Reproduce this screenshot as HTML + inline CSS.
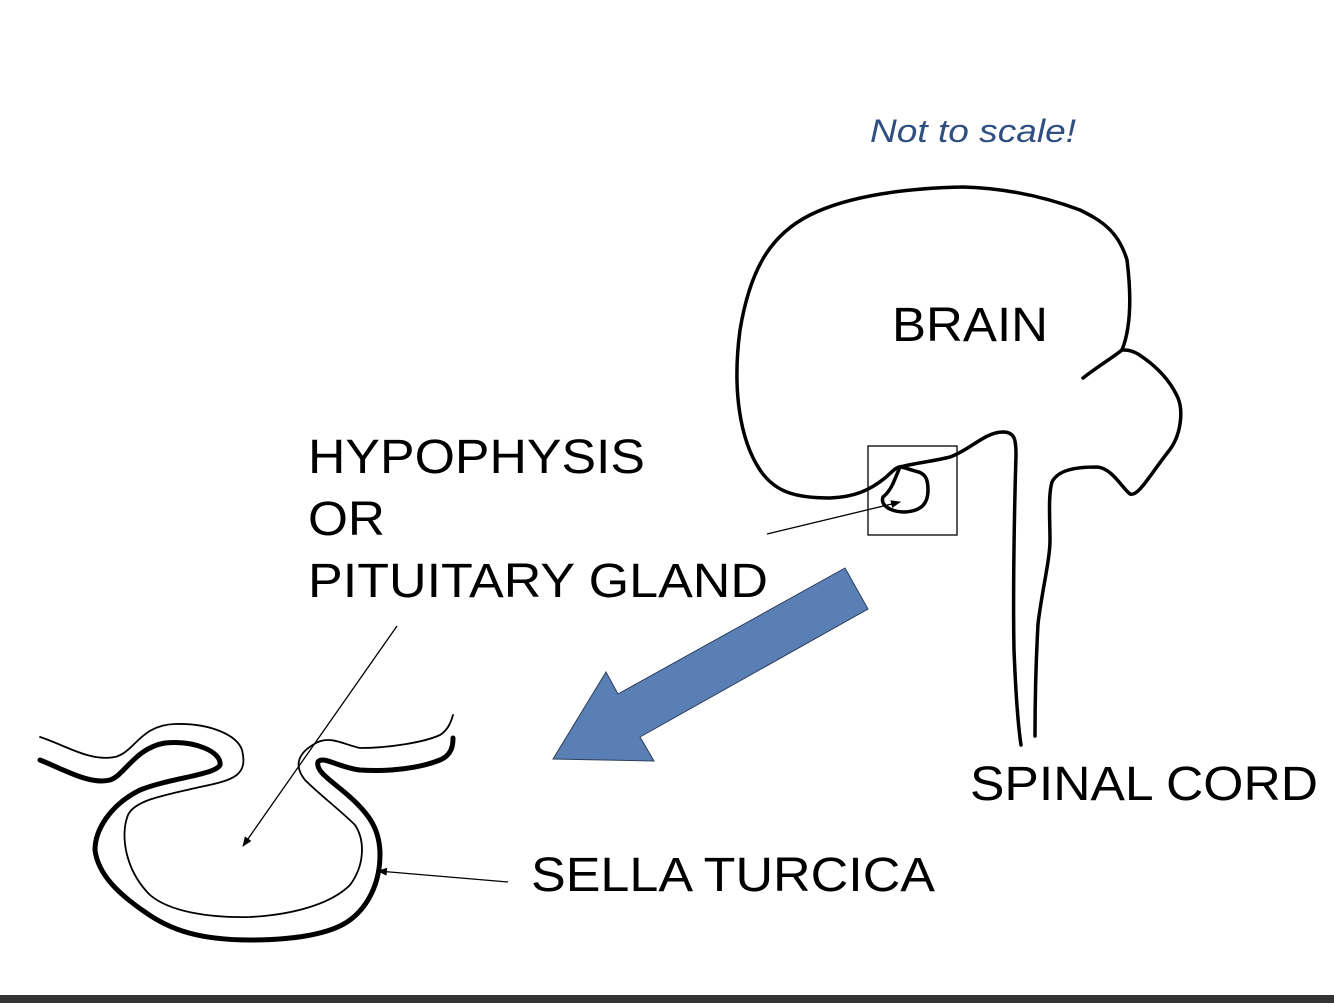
<!DOCTYPE html>
<html><head><meta charset="utf-8"><style>
html,body{margin:0;padding:0;background:#fff;width:1334px;height:1003px;overflow:hidden}
svg{display:block}
text{font-family:"Liberation Sans",Arial,sans-serif;fill:#000}
</style></head><body>
<svg width="1334" height="1003" viewBox="0 0 1334 1003" xmlns="http://www.w3.org/2000/svg">
<defs>
<marker id="ah" markerWidth="10" markerHeight="8" refX="9" refY="4" orient="auto" markerUnits="userSpaceOnUse">
<path d="M0,0 L10,4 L0,8 z" fill="#000"/></marker>
</defs>
<rect width="1334" height="1003" fill="#fff"/>
<text x="870" y="142" font-size="32" font-style="italic" style="fill:#2f4f80" textLength="206" lengthAdjust="spacingAndGlyphs">Not to scale!</text>
<text x="892" y="341" font-size="48" textLength="156" lengthAdjust="spacingAndGlyphs">BRAIN</text>
<text x="308" y="473" font-size="48" textLength="337" lengthAdjust="spacingAndGlyphs">HYPOPHYSIS</text>
<text x="308" y="535" font-size="48" textLength="77" lengthAdjust="spacingAndGlyphs">OR</text>
<text x="308" y="597" font-size="48" textLength="460" lengthAdjust="spacingAndGlyphs">PITUITARY GLAND</text>
<text x="970" y="800" font-size="48" textLength="348" lengthAdjust="spacingAndGlyphs">SPINAL CORD</text>
<text x="531" y="891" font-size="48" textLength="404" lengthAdjust="spacingAndGlyphs">SELLA TURCICA</text>

<!-- brain -->
<g fill="none" stroke="#000" stroke-width="3.5" stroke-linecap="round" stroke-linejoin="round">
<path d="M1083,378 C1100,365 1112,358 1122,350 C1130,330 1132,300 1127,260 C1118,230 1100,220 1080,210 C1040,195 1000,188 963,187 C910,188 850,195 810,215 C770,235 750,270 740,330 C732,390 740,440 760,470 C775,492 795,498 830,498 C855,497 870,490 885,478 C892,472 896,467 900,467"/>
<path d="M900,467 C895,478 892,490 883,497 C880,505 890,512 905,512 C922,511 928,503 928,490 C928,478 925,473 915,471 C908,469 903,467 900,467"/>
<path d="M900,467 C915,463 935,461 950,457 C970,450 985,432 1003,432 C1015,432 1016,440 1016,455 C1014,520 1013,600 1014,650 C1016,700 1018,725 1021,745"/>
<path d="M1035,736 C1035,700 1036,660 1038,624 C1042,590 1050,560 1050,540 C1050,520 1048,495 1052,482 C1058,470 1075,467 1097,467 C1112,468 1122,488 1130,494 C1138,497 1150,475 1168,452 C1182,435 1183,410 1178,398 C1170,380 1155,365 1138,354 C1130,349 1124,350 1122,350"/>
</g>
<rect x="868" y="446" width="89" height="89" fill="none" stroke="#000" stroke-width="1.3"/>
<line x1="767" y1="534" x2="900" y2="502" stroke="#000" stroke-width="1.3" marker-end="url(#ah)"/>

<!-- blue arrow -->
<polygon points="845,568 868,609 640,737 654,761 553,759 606,672 618,694" fill="#5a7fb5" stroke="#2c3f5c" stroke-width="1"/>

<!-- sella turcica -->
<g fill="none" stroke="#000" stroke-linecap="round" stroke-linejoin="round">
<path stroke-width="5" d="M40,760 C65,770 90,785 110,780 C125,775 135,748 165,743 C195,740 222,752 220,765 C215,775 170,778 140,790 C110,805 95,830 95,850 C98,875 120,895 145,912 C170,930 200,940 250,940 C290,940 330,935 350,920 C370,905 380,880 380,855 C380,830 370,815 350,797 C335,783 315,772 318,762 C322,755 340,768 360,770 C390,772 420,768 440,760 C452,755 453,745 453,738"/>
<path stroke-width="1.8" d="M40,737 C65,745 90,762 115,757 C135,752 140,725 175,724 C210,723 237,735 242,750 C248,775 235,780 200,787 C165,795 135,800 128,815 C120,835 125,870 150,895 C170,912 210,918 250,917 C290,915 330,905 350,885 C365,865 365,840 355,825 C340,810 320,795 305,780 C293,765 298,752 318,742 C332,736 345,745 360,748 C390,748 425,742 440,735 C448,730 451,722 453,715"/>
</g>
<line x1="397" y1="626" x2="243" y2="846" stroke="#000" stroke-width="1.3" marker-end="url(#ah)"/>
<line x1="508" y1="882" x2="378" y2="871" stroke="#000" stroke-width="1.3" marker-end="url(#ah)"/>

<rect x="0" y="995" width="1334" height="8" fill="#333"/>
</svg>
</body></html>
